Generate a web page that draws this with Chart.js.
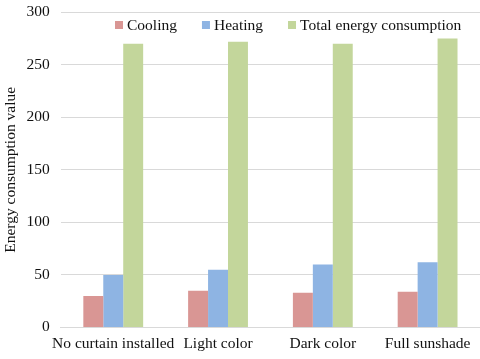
<!DOCTYPE html>
<html>
<head>
<meta charset="utf-8">
<script src="https://cdn.jsdelivr.net/npm/chart.js@4"></script>
<style>
    html, body { margin: 0; padding: 0; background: #fff; }
    #wrap { width: 480px; height: 359px; }
</style>
</head>
<body>
<div id="wrap"><canvas id="chart" width="480" height="359"></canvas></div>
<script>
const categories = ['No curtain installed', 'Light color', 'Dark color', 'Full sunshade'];
const cooling = [30, 35, 33, 34];
const heating = [50, 55, 60, 62];
const totalEnergy = [270, 272, 270, 275];
const yTicks = [0, 50, 100, 150, 200, 250, 300];

const FONT = "'Liberation Serif', 'Times New Roman', serif";
const FSIZE = 15.5;

// legend drawn inside the plot area, like the original
const innerLegend = {
    id: 'innerLegend',
    afterDraw(chart) {
        const ctx = chart.ctx;
        ctx.save();
        ctx.font = `${FSIZE}px ${FONT}`;
        ctx.textBaseline = 'middle';
        let x = 115;
        const y = 25;
        chart.data.datasets.forEach(ds => {
            ctx.fillStyle = ds.backgroundColor;
            ctx.fillRect(x, y - 4, 8, 8);
            ctx.fillStyle = '#111';
            ctx.fillText(ds.label, x + 12, y + 1);
            x += 12 + ctx.measureText(ds.label).width + 25;
        });
        ctx.restore();
    },
};

new Chart(document.getElementById('chart').getContext('2d'), {
    type: 'bar',
    data: {
        labels: categories,
        datasets: [
            { label: 'Cooling', data: cooling, backgroundColor: '#d99694' },
            { label: 'Heating', data: heating, backgroundColor: '#8eb4e3' },
            { label: 'Total energy consumption', data: totalEnergy, backgroundColor: '#c3d69b' },
        ],
    },
    options: {
        responsive: false,
        animation: false,
        layout: { padding: { top: -3.5, right: 0, bottom: 4, left: 0 } },
        datasets: { bar: { barPercentage: 1, categoryPercentage: 0.571 } },
        plugins: {
            legend: { display: false },
            tooltip: { enabled: false },
        },
        scales: {
            x: {
                grid: { display: false, drawTicks: true, tickLength: 5, tickColor: 'rgba(0,0,0,0)' },
                border: { display: true, color: '#d9d9d9' },
                ticks: { color: '#111', font: { family: FONT, size: FSIZE }, padding: 2, maxRotation: 0, autoSkip: false },
            },
            y: {
                min: 0,
                max: 300,
                afterBuildTicks: axis => { axis.ticks = yTicks.map(v => ({ value: v })); },
                grid: { color: '#d9d9d9', drawTicks: true, tickLength: 8, tickColor: 'rgba(0,0,0,0)' },
                border: { display: false },
                ticks: { color: '#111', font: { family: FONT, size: FSIZE }, padding: 3 },
                title: {
                    display: true,
                    text: 'Energy consumption value',
                    color: '#111',
                    font: { family: FONT, size: FSIZE },
                    padding: { top: 2, bottom: 3 },
                },
            },
        },
    },
    plugins: [innerLegend],
});
</script>
</body>
</html>
